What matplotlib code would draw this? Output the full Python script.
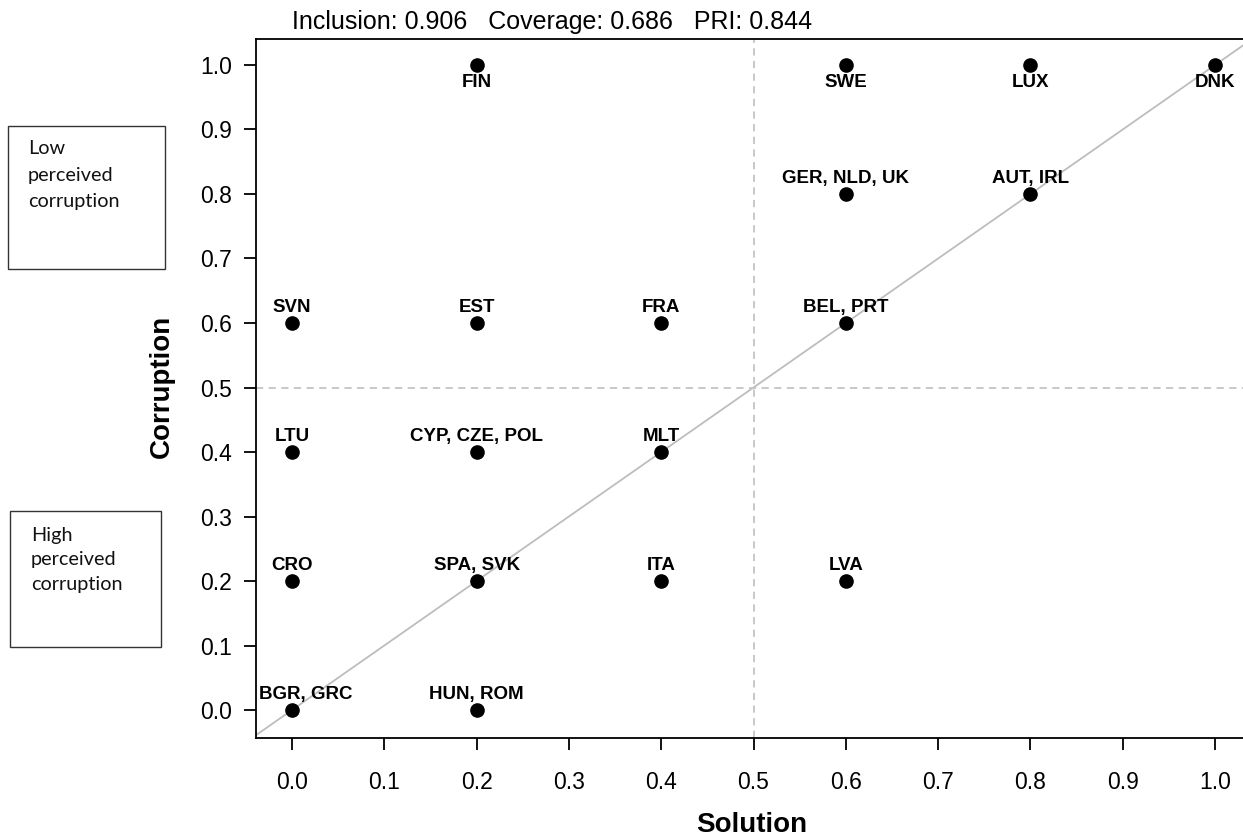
import matplotlib
matplotlib.use("Agg")
import matplotlib.pyplot as plt
from matplotlib.patches import Rectangle

plt.rcParams['font.family'] = ['Liberation Sans', 'DejaVu Sans']

countries = ["FIN", "SWE", "LUX", "DNK", "GER, NLD, UK", "AUT, IRL",
             "SVN", "EST", "FRA", "BEL, PRT", "LTU", "CYP, CZE, POL", "MLT",
             "CRO", "SPA, SVK", "ITA", "LVA", "BGR, GRC", "HUN, ROM"]
solution = [0.2, 0.6, 0.8, 1.0, 0.6, 0.8,
            0.0, 0.2, 0.4, 0.6, 0.0, 0.2, 0.4,
            0.0, 0.2, 0.4, 0.6, 0.0, 0.2]
corruption = [1.0, 1.0, 1.0, 1.0, 0.8, 0.8,
              0.6, 0.6, 0.6, 0.6, 0.4, 0.4, 0.4,
              0.2, 0.2, 0.2, 0.2, 0.0, 0.0]
ticks = [0.0, 0.1, 0.2, 0.3, 0.4, 0.5, 0.6, 0.7, 0.8, 0.9, 1.0]
title = "Inclusion: 0.906   Coverage: 0.686   PRI: 0.844"


def main():
    fig = plt.figure(figsize=(12.43, 8.38), dpi=100)
    ax = fig.add_axes([256 / 1243, 1 - 738 / 838, 987 / 1243, 699 / 838])

    ax.axline((0, 0), (1, 1), color='#bdbdbd', lw=1.3, zorder=1)
    ax.axvline(0.5, color='#c4c4c4', ls=(0, (4, 3)), lw=1.3, zorder=1)
    ax.axhline(0.5, color='#c4c4c4', ls=(0, (4, 3)), lw=1.3, zorder=1)
    ax.plot(solution, corruption, 'o', color='black', markersize=9.5, zorder=3)

    for name, x, y in zip(countries, solution, corruption):
        dx = 10 if name == "BGR, GRC" else 0
        if y >= 1.0:
            ax.annotate(name, (x, y), xytext=(dx, -6.5), textcoords='offset points',
                        ha='center', va='top', fontsize=13.5, fontweight='bold')
        else:
            ax.annotate(name, (x, y), xytext=(dx, 5), textcoords='offset points',
                        ha='center', va='bottom', fontsize=13.5, fontweight='bold')

    ax.set_xlim(-0.039, 1.0303)
    ax.set_ylim(-0.0434, 1.0403)
    ax.set_xticks(ticks)
    ax.set_yticks(ticks)
    ax.set_xticklabels([f"{t:.1f}" for t in ticks])
    ax.set_yticklabels([f"{t:.1f}" for t in ticks])
    ax.tick_params(axis='x', direction='out', length=8.5, width=1.3, pad=15, labelsize=16.5)
    ax.tick_params(axis='y', direction='out', length=8.5, width=1.3, pad=9, labelsize=16.5)
    ax.spines['right'].set_visible(False)
    for s in ['left', 'bottom', 'top']:
        ax.spines[s].set_linewidth(1.3)

    ax.text(0.0, 1.007, title, transform=ax.get_xaxis_transform(),
            ha='left', va='bottom', fontsize=18)

    fig.text(752 / 1243, 1 - 825 / 838, "Solution", ha='center', va='center',
             fontsize=20, fontweight='bold')
    fig.text(162 / 1243, 1 - 386 / 838, "Corruption", ha='center', va='center',
             rotation=90, fontsize=20, fontweight='bold')

    # side boxes
    boxes = [((8, 126, 157, 143), 28, [149, 175, 201], ["Low", "perceived", "corruption"]),
             ((10, 511, 151, 136), 31, [535, 560, 584], ["High", "perceived", "corruption"])]
    for (bx, by, bw, bh), tx, ys, lines in boxes:
        fig.patches.append(Rectangle((bx / 1243, 1 - (by + bh) / 838), bw / 1243, bh / 838,
                                     transform=fig.transFigure, fill=False,
                                     edgecolor='#333333', lw=1.0))
        for ty, line in zip(ys, lines):
            fig.text(tx / 1243, 1 - ty / 838, line, ha='left', va='center',
                     fontsize=14.3, family='Lato', color='#111111')

    fig.savefig("out.png", dpi=100)


if __name__ == "__main__":
    main()
